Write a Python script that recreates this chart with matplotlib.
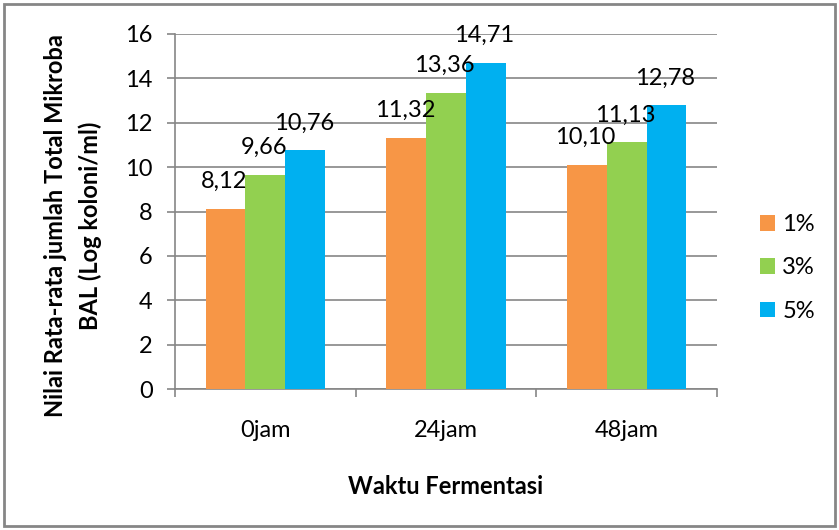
import matplotlib.pyplot as plt
import matplotlib.patches as patches
import numpy as np

# data
categories = ['0jam', '24jam', '48jam']
series_names = ['1%', '3%', '5%']
vals_1 = [8.12, 11.32, 10.10]
vals_3 = [9.66, 13.36, 11.13]
vals_5 = [10.76, 14.71, 12.78]
bar_colors = ['#F79646', '#92D050', '#00B0F0']

plt.rcParams['font.family'] = ['Lato', 'DejaVu Sans']

W, H = 839, 530
fig = plt.figure(figsize=(W / 100, H / 100), dpi=100)

# outer border like the Excel chart area
fig.patches.append(patches.Rectangle((4 / W, 4 / H), 831 / W, 522 / H,
                                     transform=fig.transFigure, fill=False,
                                     edgecolor='#868686', linewidth=2))

ax = fig.add_axes([175 / W, 1 - 389 / H, (717 - 175) / W, (389 - 34) / H])

x = np.arange(len(categories))
width = 0.22
grey = '#868686'
fs = 17
for i, (name, vals) in enumerate(zip(series_names, [vals_1, vals_3, vals_5])):
    pos = x + (i - 1) * width
    ax.bar(pos, vals, width, color=bar_colors[i], label=name, zorder=3)
    for px, v in zip(pos, vals):
        ax.annotate(f'{v:.2f}'.replace('.', ','), (px, v), xytext=(-1, 12),
                    textcoords='offset points', ha='center', va='bottom',
                    fontsize=fs, zorder=4)

ax.set_xlim(-0.5, 2.5)
ax.set_ylim(0, 16)
ax.set_yticks(range(0, 17, 2))
ax.yaxis.grid(True, color=grey, linewidth=1.2, zorder=0)
ax.set_xticks(x)
ax.set_xticklabels(categories, fontsize=fs)
ax.set_xticks([-0.5, 0.5, 1.5, 2.5], minor=True)
ax.tick_params(axis='x', which='major', length=0, pad=22)
ax.tick_params(axis='x', which='minor', length=6, color=grey, width=1.2)
ax.tick_params(axis='y', length=6, color=grey, width=1.2, labelsize=fs, pad=10)

for side in ['top', 'right']:
    ax.spines[side].set_visible(False)
for side in ['left', 'bottom']:
    ax.spines[side].set_color(grey)
    ax.spines[side].set_linewidth(1.2)

ax.set_xlabel('Waktu Fermentasi', fontsize=fs, fontweight='bold', labelpad=25)
# y title sits a bit lower than the plot centre, as in the Excel chart
fig.text(73 / W, 1 - 226 / H,
         'Nilai Rata-rata jumlah Total Mikroba\nBAL (Log koloni/ml)',
         rotation=90, ha='center', va='center', multialignment='center',
         fontsize=fs, fontweight='bold', linespacing=1.55)

ax.legend(loc='center left', bbox_to_anchor=(760 / W, 1 - 268 / H),
          bbox_transform=fig.transFigure, frameon=False, fontsize=fs,
          handlelength=0.64, handleheight=0.64, labelspacing=0.95,
          handletextpad=0.3, borderpad=0, borderaxespad=0)

fig.savefig('out.png', dpi=100)
